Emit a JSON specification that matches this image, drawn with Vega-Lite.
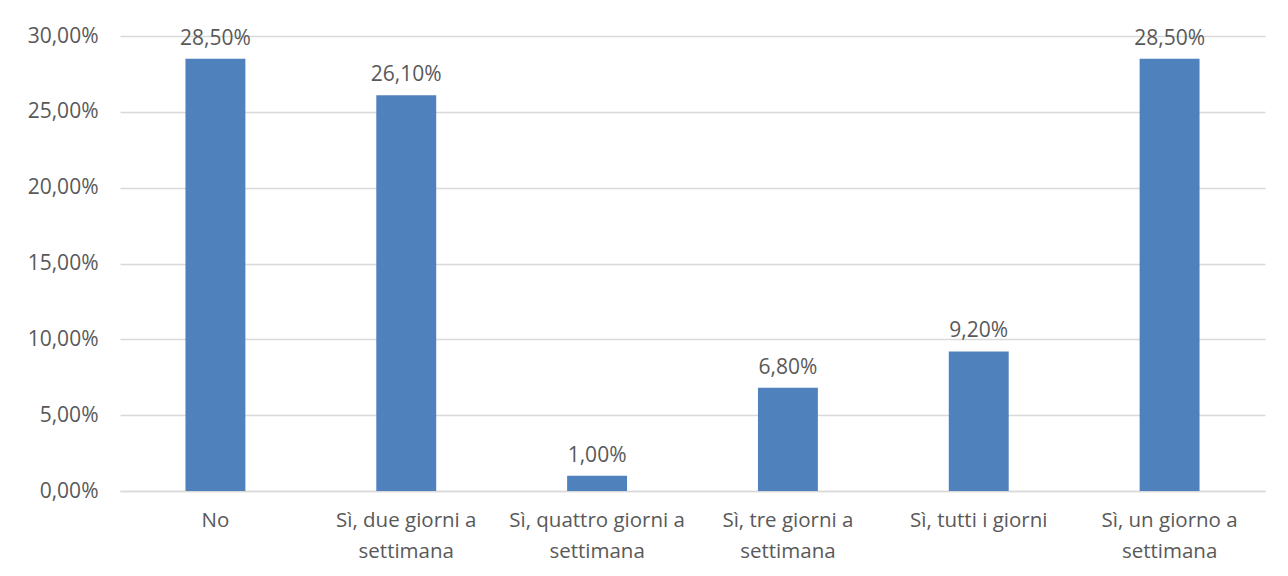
{
  "$schema": "https://vega.github.io/schema/vega-lite/v6.json",
  "width": 1145,
  "height": 455,
  "autosize": "none",
  "padding": {"left": 120, "top": 36, "right": 23, "bottom": 85},
  "background": "white",
  "config": {
    "view": {"stroke": null},
    "font": "Open Sans",
    "locale": {
      "number": {"decimal": ",", "thousands": ".", "grouping": [3], "currency": ["", " €"]}
    }
  },
  "data": {
    "values": [
      {"risposta": "No", "percentuale": 0.285},
      {"risposta": "Sì, due giorni a settimana", "percentuale": 0.261},
      {"risposta": "Sì, quattro giorni a settimana", "percentuale": 0.01},
      {"risposta": "Sì, tre giorni a settimana", "percentuale": 0.068},
      {"risposta": "Sì, tutti i giorni", "percentuale": 0.092},
      {"risposta": "Sì, un giorno a settimana", "percentuale": 0.285}
    ]
  },
  "encoding": {
    "x": {
      "field": "risposta",
      "type": "nominal",
      "sort": null,
      "scale": {"paddingInner": 0.686, "paddingOuter": 0.343},
      "axis": {
        "title": null,
        "labelAngle": 0,
        "labelFontSize": 20.5,
        "labelColor": "#595959",
        "labelPadding": 19,
        "labelLineHeight": 31,
        "labelLimit": 300,
        "ticks": false,
        "domain": true,
        "domainColor": "#d9d9d9",
        "domainWidth": 1.5,
        "labelExpr": "indexof(datum.value, ' settimana') >= 0 ? [replace(datum.value, ' settimana', ''), 'settimana'] : datum.value"
      }
    },
    "y": {
      "field": "percentuale",
      "type": "quantitative",
      "scale": {"domain": [0, 0.3], "nice": false},
      "axis": {
        "title": null,
        "values": [0, 0.05, 0.1, 0.15, 0.2, 0.25, 0.3],
        "format": ".2%",
        "labelFontSize": 21,
        "labelColor": "#595959",
        "labelPadding": 22,
        "ticks": false,
        "domain": false,
        "grid": true,
        "gridColor": "#d9d9d9",
        "gridWidth": 1.5
      }
    }
  },
  "layer": [
    {
      "mark": {"type": "bar", "color": "#4f81bd"}
    },
    {
      "mark": {"type": "text", "fontSize": 21, "color": "#595959", "baseline": "alphabetic", "dy": -14},
      "encoding": {
        "text": {"field": "percentuale", "type": "quantitative", "format": ".2%"}
      }
    }
  ]
}
